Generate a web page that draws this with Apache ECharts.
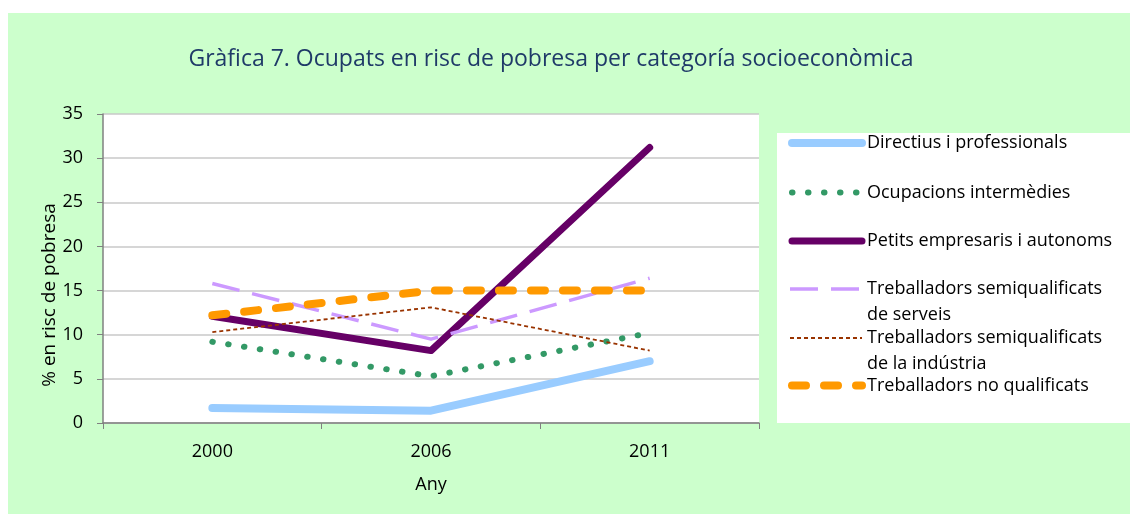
<!DOCTYPE html>
<html>
<head>
<meta charset="utf-8">
<script src="https://cdn.jsdelivr.net/npm/echarts@6/dist/echarts.min.js"></script>
<style>
  html, body { margin: 0; padding: 0; background: #ffffff; }
  #bg { position: absolute; left: 8px; top: 13px; width: 1122px; height: 501px; background: #CCFFCC; }
  #chart { position: absolute; left: 0; top: 0; width: 1130px; height: 514px; }
</style>
</head>
<body>
<div id="bg"></div>
<div id="chart"></div>
<script>
// ---- data ----
const years = ['2000', '2006', '2011'];
const seriesNames = [
  'Directius i professionals',
  'Ocupacions intermèdies',
  'Petits empresaris i autonoms',
  'Treballadors semiqualificats',
  'Treballadors semiqualificats ',
  'Treballadors no qualificats'
];
const directius = [1.7, 1.4, 7.0];
const ocupacions = [9.2, 5.3, 10.2];
const petits = [12.1, 8.2, 31.2];
const semiServeis = [15.8, 9.5, 16.4];
const semiIndustria = [10.3, 13.1, 8.2];
const noQualificats = [12.2, 15.0, 15.0];
const secondLines = ['de serveis', 'de la indústria'];
const titleText = 'Gràfica 7. Ocupats en risc de pobresa per categoría socioeconòmica';
const yAxisName = '% en risc de pobresa';
const xAxisName = 'Any';

const FONT = '"Open Sans"';
const FS = 18;
const values = [directius, ocupacions, petits, semiServeis, semiIndustria, noQualificats];
const styles = [
  { color: '#99CCFF', width: 8, type: 'solid', cap: 'round' },
  { color: '#339966', width: 6, type: [0.5, 15.5], cap: 'round' },
  { color: '#660066', width: 7, type: 'solid', cap: 'round' },
  { color: '#CC99FF', width: 3.5, type: [28, 13], cap: 'butt' },
  { color: '#993300', width: 1.8, type: [4, 3], cap: 'butt' },
  { color: '#FF9900', width: 8, type: [14, 18], cap: 'round' }
];
const legendY = [143, 192.5, 241, 289, 338, 385.5];
const TEXT_X = 867;

const chart = echarts.init(document.getElementById('chart'), null, { renderer: 'canvas' });

const series = seriesNames.map((n, i) => ({
  name: n,
  type: 'line',
  data: values[i],
  symbol: 'none',
  smooth: false,
  lineStyle: {
    color: styles[i].color,
    width: styles[i].width,
    type: styles[i].type,
    cap: styles[i].cap,
    join: 'round'
  },
  itemStyle: { color: styles[i].color },
  emphasis: { disabled: true },
  z: 2 + i
}));

const legends = seriesNames.map((n, i) => {
  const s = styles[i];
  const iw = s.cap === 'round' ? 70 : 72;
  return {
    data: [n],
    orient: 'vertical',
    left: TEXT_X - 5 - iw - s.width / 2,
    top: legendY[i] - 11,
    padding: 0,
    itemWidth: iw,
    itemHeight: 14,
    selectedMode: false,
    itemStyle: { color: 'rgba(0,0,0,0)', borderWidth: 0, opacity: 0 },
    lineStyle: { color: s.color, width: s.width, type: s.type, cap: s.cap },
    textStyle: { fontFamily: FONT, fontSize: FS, color: '#000', lineHeight: 22 }
  };
});

const option = {
  backgroundColor: 'transparent',
  animation: false,
  title: {
    text: titleText,
    left: 551,
    top: 46,
    padding: 0,
    textAlign: 'center',
    textStyle: { fontFamily: FONT, fontSize: 23, fontWeight: 'normal', color: '#1F3A68', lineHeight: 26 }
  },
  graphic: {
    elements: [
      { type: 'rect', left: 777, top: 133, shape: { width: 353, height: 290 }, style: { fill: '#ffffff' }, z: -1, silent: true },
      { type: 'text', left: TEXT_X, top: 315 - 11, style: { text: secondLines[0], font: FS + 'px ' + FONT, lineHeight: 22, fill: '#000' }, z: 10 },
      { type: 'text', left: TEXT_X, top: 364 - 11, style: { text: secondLines[1], font: FS + 'px ' + FONT, lineHeight: 22, fill: '#000' }, z: 10 },
      { type: 'text', x: 50, y: 295, rotation: Math.PI / 2,
        style: { text: yAxisName, font: '19px ' + FONT, fill: '#000', align: 'center', verticalAlign: 'middle' }, z: 10 }
    ]
  },
  legend: legends,
  grid: {
    left: 103, right: 371, top: 114, bottom: 91,
    show: true, backgroundColor: '#ffffff', borderWidth: 0, containLabel: false
  },
  xAxis: {
    type: 'category',
    data: years,
    boundaryGap: true,
    name: xAxisName,
    nameLocation: 'middle',
    nameGap: 53,
    nameMoveOverlap: false,
    nameTextStyle: { fontFamily: FONT, fontSize: FS, color: '#000' },
    axisLine: { lineStyle: { color: '#808080', width: 1.5 } },
    axisTick: { show: true, length: 6, inside: false, lineStyle: { color: '#808080' } },
    axisLabel: { fontFamily: FONT, fontSize: FS, color: '#000', margin: 20 },
    splitLine: { show: false }
  },
  yAxis: {
    type: 'value',
    min: 0, max: 35, interval: 5,
    axisLine: { show: true, lineStyle: { color: '#808080', width: 1.5 } },
    axisTick: { show: true, length: 6, inside: false, lineStyle: { color: '#808080' } },
    axisLabel: { fontFamily: FONT, fontSize: FS, color: '#000', margin: 20 },
    splitLine: { show: true, lineStyle: { color: '#C8C8C8', width: 1.5 } }
  },
  series: series
};
chart.setOption(option);
</script>
</body>
</html>
